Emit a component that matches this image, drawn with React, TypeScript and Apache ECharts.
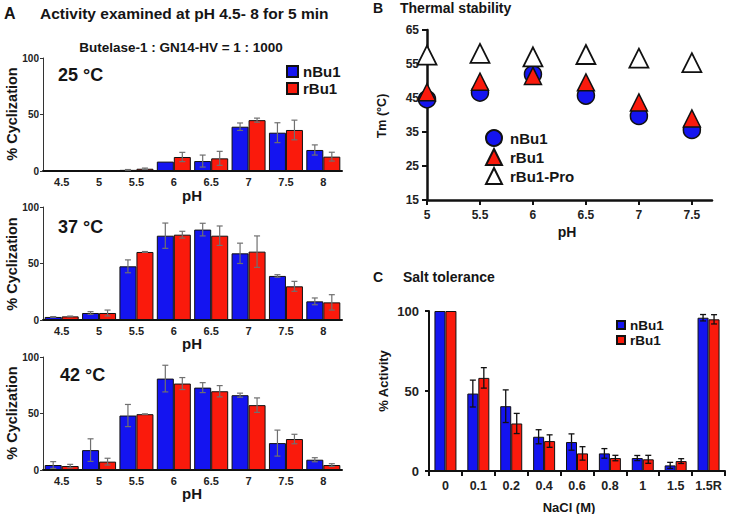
import React, { useEffect, useRef } from "react";
import * as echarts from "echarts";

// ---------- data ----------
const phA = ["4.5", "5", "5.5", "6", "6.5", "7", "7.5", "8"];

const a25n = [0, 0, 1, 8.3, 8.8, 39.2, 33.9, 18.6];
const a25nErr = [0, 0, 0.3, 0, 5.3, 3.3, 8.8, 4.5];
const a25r = [0, 0, 2, 12.4, 11.2, 45, 36.3, 12.7];
const a25rErr = [0, 0, 0.6, 4.1, 6.2, 1.8, 8.7, 3.9];

const a37n = [2.7, 6.2, 47.5, 74.6, 80, 59, 39, 16.5];
const a37nErr = [0.3, 1.2, 5.7, 11.2, 5.6, 9, 1.1, 3];
const a37r = [3.2, 6.2, 60.2, 75.5, 74.6, 60.5, 29.8, 15.6];
const a37rErr = [0.3, 2.6, 0.4, 3, 8.6, 13.9, 4.4, 6.8];

const a42n = [4.4, 17.6, 48.2, 80.9, 72.9, 66.2, 23.8, 9.1];
const a42nErr = [3, 10, 9.8, 11.8, 4.4, 1.8, 11.5, 1.8];
const a42r = [3.5, 7.4, 49.4, 76.5, 69.7, 57.4, 27.4, 4.4];
const a42rErr = [1.5, 3, 0.3, 5.3, 5, 6.4, 4.2, 1.2];

const phB = [5, 5.5, 6, 6.5, 7, 7.5];
const bN = [44.6, 46.6, 52, 45.7, 39.7, 35.6];
const bR = [46.7, 49.8, 51.5, 49.6, 43.7, 39];
const bPro = [57.6, 58.1, 57.1, 57.8, 56.7, 55.4];
const bYTicks = [15, 25, 35, 45, 55, 65];

const naCl = ["0", "0.1", "0.2", "0.4", "0.6", "0.8", "1", "1.5", "1.5R"];
const cN = [100, 48.4, 40.5, 21.4, 18.1, 11, 8.1, 3.5, 95.8];
const cNErr = [0, 8.4, 10.2, 4.4, 5.1, 3, 1.6, 1.9, 2];
const cR = [100, 58.2, 29.7, 18.7, 11, 8.1, 7.3, 6.2, 94.8];
const cRErr = [0, 6.4, 6.3, 3.9, 4.2, 1.7, 2.5, 1.5, 2.9];

// ---------- styles ----------
const BLUE = "#1414f0";
const RED = "#fa1a0c";
const FONT = '"Liberation Sans", Arial, sans-serif';
const A_BAR_W = 17;
const C_BAR_W = 11;

const errData = (vals: number[], errs: number[]) =>
  vals
    .map((v, i) => [i, v - errs[i], v + errs[i]])
    .filter((d, i) => errs[i] > 0);

const makeErr =
  (offset: number, color: string, cap: number, lw: number) =>
  (params: any, api: any) => {
    const lo = api.coord([api.value(0), api.value(1)]);
    const hi = api.coord([api.value(0), api.value(2)]);
    const x = lo[0] + offset;
    const st = { stroke: color, lineWidth: lw };
    return {
      type: "group",
      children: [
        { type: "line", shape: { x1: x, y1: lo[1], x2: x, y2: hi[1] }, style: st },
        { type: "line", shape: { x1: x - cap, y1: hi[1], x2: x + cap, y2: hi[1] }, style: st },
        { type: "line", shape: { x1: x - cap, y1: lo[1], x2: x + cap, y2: lo[1] }, style: st },
      ],
    };
  };

const txt = (
  text: string,
  x: number,
  y: number,
  size: number,
  align: string = "left",
  rotation = 0
) => ({
  type: "text",
  x,
  y,
  rotation,
  z: 100,
  style: {
    text,
    fill: "#151515",
    font: `bold ${size}px ${FONT}`,
    align,
    textAlign: align,
    verticalAlign: "middle",
    textVerticalAlign: "middle",
  },
});

export default function App() {
  const ref = useRef<HTMLDivElement>(null);

  useEffect(() => {
    if (!ref.current) return;
    const chart = echarts.init(ref.current, null, { renderer: "svg" });

    const aTops = [58, 207, 357];
    const aSets = [
      [a25n, a25nErr, a25r, a25rErr],
      [a37n, a37nErr, a37r, a37rErr],
      [a42n, a42nErr, a42r, a42rErr],
    ];

    const grids: any[] = aTops.map((t) => ({ left: 43, top: t, width: 299, height: 113 }));
    grids.push({ left: 427, top: 30, width: 285, height: 170 });
    grids.push({ left: 429, top: 311, width: 296, height: 160 });

    const xAxes: any[] = aTops.map((_, i) => ({
      type: "category",
      gridIndex: i,
      data: phA,
      axisLine: { lineStyle: { color: "#111", width: 2 } },
      axisTick: { show: false },
      axisLabel: {
        fontSize: 11,
        fontWeight: "bold",
        color: "#222",
        margin: 5,
        fontFamily: FONT,
        interval: 0,
      },
    }));
    const yAxes: any[] = aTops.map((_, i) => ({
      type: "value",
      gridIndex: i,
      min: 0,
      max: 100,
      interval: 50,
      splitLine: { show: false },
      axisLine: { show: true, lineStyle: { color: "#333", width: 1 } },
      axisTick: { show: true, length: 3, lineStyle: { color: "#333" } },
      axisLabel: { fontSize: 10, fontWeight: "bold", color: "#222", margin: 4, fontFamily: FONT },
    }));

    // panel B
    xAxes.push({
      type: "value",
      gridIndex: 3,
      min: 5,
      max: 7.69,
      splitLine: { show: false },
      axisLine: { lineStyle: { color: "#111", width: 2.5 } },
      axisTick: { show: true, length: 5, lineStyle: { width: 2, color: "#111" }, customValues: phB },
      axisLabel: {
        fontSize: 12,
        fontWeight: "bold",
        color: "#222",
        margin: 9,
        fontFamily: FONT,
        customValues: phB,
      },
    });
    yAxes.push({
      type: "value",
      gridIndex: 3,
      min: 15,
      max: 65,
      splitLine: { show: false },
      axisLine: { show: true, lineStyle: { color: "#111", width: 2.5 } },
      axisTick: { show: true, length: 5, lineStyle: { width: 2, color: "#111" }, customValues: bYTicks },
      axisLabel: {
        fontSize: 12,
        fontWeight: "bold",
        color: "#222",
        margin: 8,
        fontFamily: FONT,
        customValues: bYTicks,
      },
    });

    // panel C
    xAxes.push({
      type: "category",
      gridIndex: 4,
      data: naCl,
      axisLine: { lineStyle: { color: "#111", width: 2 } },
      axisTick: { show: true, interval: 0, length: 5, lineStyle: { width: 2, color: "#111" } },
      axisLabel: {
        fontSize: 12.5,
        fontWeight: "bold",
        color: "#222",
        margin: 8,
        fontFamily: FONT,
        interval: 0,
      },
    });
    yAxes.push({
      type: "value",
      gridIndex: 4,
      min: 0,
      max: 100,
      interval: 50,
      splitLine: { show: false },
      axisLine: { show: true, lineStyle: { color: "#111", width: 2 } },
      axisTick: { show: true, length: 4, lineStyle: { width: 2, color: "#111" } },
      axisLabel: { fontSize: 13, fontWeight: "bold", color: "#222", margin: 10, fontFamily: FONT },
    });

    const series: any[] = [];
    aSets.forEach(([n, nE, r, rE], i) => {
      series.push({
        type: "bar",
        name: "nBu1",
        xAxisIndex: i,
        yAxisIndex: i,
        data: n,
        barWidth: A_BAR_W,
        barGap: "0%",
        itemStyle: { color: BLUE, borderColor: "#111", borderWidth: 1 },
      });
      series.push({
        type: "bar",
        name: "rBu1",
        xAxisIndex: i,
        yAxisIndex: i,
        data: r,
        barWidth: A_BAR_W,
        barGap: "0%",
        itemStyle: { color: RED, borderColor: "#111", borderWidth: 1 },
      });
      series.push({
        type: "custom",
        name: "errA-n" + i,
        xAxisIndex: i,
        yAxisIndex: i,
        z: 5,
        data: errData(n, nE),
        encode: { x: 0, y: [1, 2] },
        renderItem: makeErr(-A_BAR_W / 2, "#707070", 3, 1.2),
      });
      series.push({
        type: "custom",
        name: "errA-r" + i,
        xAxisIndex: i,
        yAxisIndex: i,
        z: 5,
        data: errData(r, rE),
        encode: { x: 0, y: [1, 2] },
        renderItem: makeErr(A_BAR_W / 2, "#707070", 3, 1.2),
      });
    });

    // B scatter
    series.push({
      type: "scatter",
      name: "B-nBu1",
      xAxisIndex: 3,
      yAxisIndex: 3,
      symbol: "circle",
      symbolSize: 17,
      data: phB.map((x, i) => [x, bN[i]]),
      itemStyle: { color: BLUE, borderColor: "#111", borderWidth: 1.5, opacity: 1 },
      z: 2,
    });
    series.push({
      type: "scatter",
      name: "B-rBu1",
      xAxisIndex: 3,
      yAxisIndex: 3,
      symbol: "triangle",
      symbolSize: 17,
      data: phB.map((x, i) => [x, bR[i]]),
      itemStyle: { color: RED, borderColor: "#111", borderWidth: 1.5, opacity: 1 },
      z: 3,
    });
    series.push({
      type: "scatter",
      name: "B-rBu1-Pro",
      xAxisIndex: 3,
      yAxisIndex: 3,
      symbol: "triangle",
      symbolSize: 19,
      data: phB.map((x, i) => [x, bPro[i]]),
      itemStyle: { color: "#fff", borderColor: "#111", borderWidth: 1.8, opacity: 1 },
      z: 3,
    });

    // C bars
    series.push({
      type: "bar",
      name: "C-nBu1",
      xAxisIndex: 4,
      yAxisIndex: 4,
      data: cN,
      barWidth: C_BAR_W,
      barGap: "0%",
      itemStyle: { color: BLUE, borderColor: "#111", borderWidth: 1 },
    });
    series.push({
      type: "bar",
      name: "C-rBu1",
      xAxisIndex: 4,
      yAxisIndex: 4,
      data: cR,
      barWidth: C_BAR_W,
      barGap: "0%",
      itemStyle: { color: RED, borderColor: "#111", borderWidth: 1 },
    });
    series.push({
      type: "custom",
      name: "errC-n",
      xAxisIndex: 4,
      yAxisIndex: 4,
      z: 5,
      data: errData(cN, cNErr),
      encode: { x: 0, y: [1, 2] },
      renderItem: makeErr(-C_BAR_W / 2, "#111", 3, 1.3),
    });
    series.push({
      type: "custom",
      name: "errC-r",
      xAxisIndex: 4,
      yAxisIndex: 4,
      z: 5,
      data: errData(cR, cRErr),
      encode: { x: 0, y: [1, 2] },
      renderItem: makeErr(C_BAR_W / 2, "#111", 3, 1.3),
    });

    const strip = (name: string) => name.replace(/^[BC]-/, "");

    const option: any = {
      animation: false,
      backgroundColor: "#fff",
      grid: grids,
      xAxis: xAxes,
      yAxis: yAxes,
      legend: [
        {
          orient: "vertical",
          left: 281,
          top: 59,
          itemWidth: 11,
          itemHeight: 11,
          itemGap: 2,
          icon: "rect",
          selectedMode: false,
          data: ["nBu1", "rBu1"],
          textStyle: { fontSize: 15, fontWeight: "bold", color: "#151515", fontFamily: FONT },
        },
        {
          orient: "vertical",
          left: 480,
          top: 124,
          itemWidth: 16,
          itemHeight: 16,
          itemGap: 1,
          selectedMode: false,
          data: ["B-nBu1", "B-rBu1", "B-rBu1-Pro"],
          formatter: strip,
          textStyle: {
            fontSize: 15,
            fontWeight: "bold",
            color: "#151515",
            fontFamily: FONT,
            padding: [0, 0, 0, 3],
          },
        },
        {
          orient: "vertical",
          left: 611,
          top: 313,
          itemWidth: 8,
          itemHeight: 8,
          itemGap: 1,
          icon: "rect",
          selectedMode: false,
          data: ["C-nBu1", "C-rBu1"],
          formatter: strip,
          textStyle: {
            fontSize: 13.5,
            lineHeight: 13,
            fontWeight: "bold",
            color: "#151515",
            fontFamily: FONT,
          },
        },
      ],
      graphic: [
        txt("A", 4, 13, 16),
        txt("Activity examined at pH 4.5- 8 for 5 min", 40, 13, 15.5),
        txt("Butelase-1 : GN14-HV = 1 : 1000", 181, 47, 13.5, "center"),
        txt("25 °C", 58, 75, 18),
        txt("37 °C", 58, 227, 18),
        txt("42 °C", 60, 375, 18),
        txt("% Cyclization", 12, 114, 14.5, "center", Math.PI / 2),
        txt("% Cyclization", 12, 264, 14.5, "center", Math.PI / 2),
        txt("% Cyclization", 12, 413, 14.5, "center", Math.PI / 2),
        txt("pH", 192, 195, 15, "center"),
        txt("pH", 192, 343, 15, "center"),
        txt("pH", 192, 493, 15, "center"),
        txt("B", 373, 8, 14),
        txt("Thermal stability", 400, 8, 14),
        txt("Tm (°C)", 382, 116, 12.5, "center", Math.PI / 2),
        txt("pH", 567, 232, 14, "center"),
        txt("C", 373, 277, 14),
        txt("Salt tolerance", 403, 277, 14),
        txt("% Activity", 383, 381, 13, "center", Math.PI / 2),
        txt("NaCl (M)", 569, 507, 13, "center"),
      ],
      series,
    };

    chart.setOption(option);
    return () => chart.dispose();
  }, []);

  return (
    <div
      ref={ref}
      style={{ position: "fixed", left: 0, top: 0, width: 731, height: 514, background: "#fff" }}
    />
  );
}
